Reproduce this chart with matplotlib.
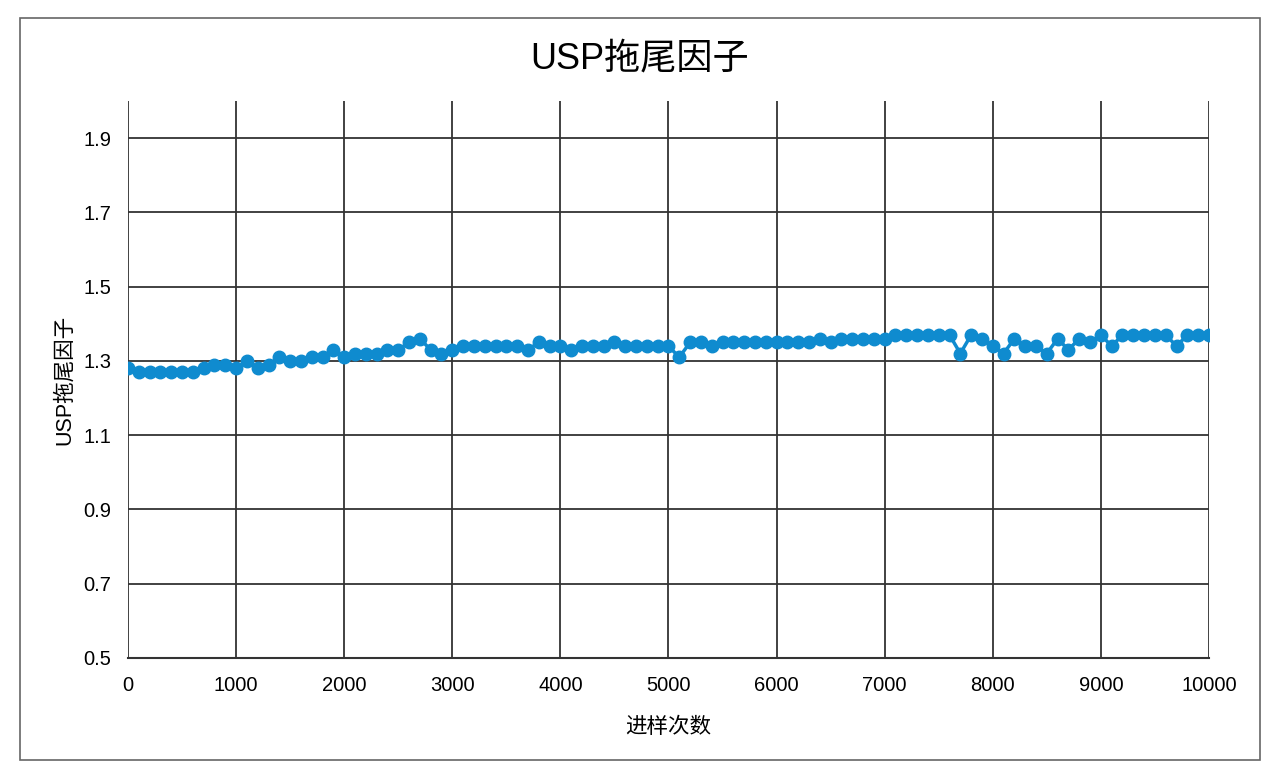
import numpy as np
import matplotlib.pyplot as plt
from matplotlib.patches import Rectangle

plt.rcParams['font.family'] = ['Liberation Sans', 'Noto Sans CJK SC', 'DejaVu Sans']

# 进样次数
x = np.arange(0, 10001, 100)
# USP拖尾因子
y = [1.28, 1.27, 1.27, 1.27, 1.27, 1.27, 1.27, 1.28, 1.29, 1.29,
     1.28, 1.30, 1.28, 1.29, 1.31, 1.30, 1.30, 1.31, 1.31, 1.33,
     1.31, 1.32, 1.32, 1.32, 1.33, 1.33, 1.35, 1.36, 1.33, 1.32,
     1.33, 1.34, 1.34, 1.34, 1.34, 1.34, 1.34, 1.33, 1.35, 1.34,
     1.34, 1.33, 1.34, 1.34, 1.34, 1.35, 1.34, 1.34, 1.34, 1.34,
     1.34, 1.31, 1.35, 1.35, 1.34, 1.35, 1.35, 1.35, 1.35, 1.35,
     1.35, 1.35, 1.35, 1.35, 1.36, 1.35, 1.36, 1.36, 1.36, 1.36,
     1.36, 1.37, 1.37, 1.37, 1.37, 1.37, 1.37, 1.32, 1.37, 1.36,
     1.34, 1.32, 1.36, 1.34, 1.34, 1.32, 1.36, 1.33, 1.36, 1.35,
     1.37, 1.34, 1.37, 1.37, 1.37, 1.37, 1.37, 1.34, 1.37, 1.37,
     1.37]
yticks = [0.5, 0.7, 0.9, 1.1, 1.3, 1.5, 1.7, 1.9]
xticks = np.arange(0, 10001, 1000)

fig = plt.figure(figsize=(12.8, 7.82), dpi=100)
ax = fig.add_axes([0.1, 0.1586, 0.8445, 0.7122])

ax.plot(x, y, color='#0F8BCF', lw=2.5, marker='o', ms=9, zorder=3)

ax.set_xlim(0, 10000)
ax.set_ylim(0.5, 2.0)
ax.set_xticks(xticks)
ax.set_yticks(yticks)
ax.set_yticklabels([f'{v:.1f}' for v in yticks])
ax.grid(True, color='#333333', lw=1.3)
ax.tick_params(length=0, labelsize=14.5, pad=13)
ax.tick_params(axis='y', pad=12)
for s in ['top', 'right', 'left']:
    ax.spines[s].set_visible(False)
ax.spines['bottom'].set_color('#333333')
ax.spines['bottom'].set_linewidth(1.5)

ax.set_xlabel('进样次数', fontsize=15.5, labelpad=16)
ax.set_ylabel('USP拖尾因子', fontsize=15.5, labelpad=6)
fig.text(0.5, 0.925, 'USP拖尾因子', ha='center', va='center', fontsize=26)

fig.patches.append(Rectangle((20 / 1280, 1 - 760 / 782), 1240 / 1280, 742 / 782,
                             transform=fig.transFigure, fill=False,
                             edgecolor='#666666', lw=1.2))

plt.savefig('out.png', dpi=100)
